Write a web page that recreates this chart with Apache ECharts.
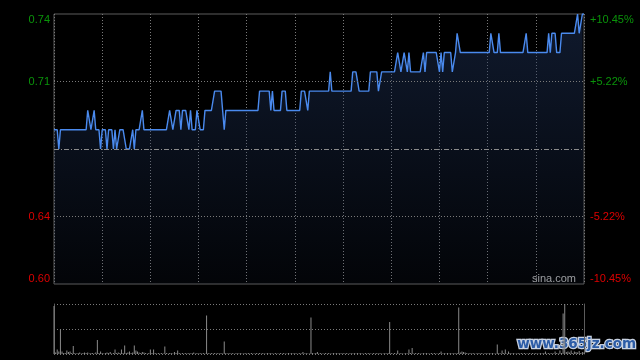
<!DOCTYPE html>
<html>
<head>
<meta charset="utf-8">
<script src="https://cdn.jsdelivr.net/npm/echarts@6/dist/echarts.min.js"></script>
<style>html,body{margin:0;padding:0;background:#000;}#c{width:640px;height:360px;}</style>
</head>
<body>
<div id="c"></div>
<script>
// ---- data ----
const prevClose = 0.67;
const priceTicks = [0.60, 0.635, 0.705, 0.74];
const priceLabels = ['0.60', '0.64', '0.71', '0.74'];
const pctLabels = ['-10.45%', '-5.22%', '+5.22%', '+10.45%'];
const totalMinutes = 330;

// one price per minute (09:30 .. 16:00, lunch break removed)
const prices = [
0.68,0.68,0.68,0.67,0.68,0.68,0.68,0.68,0.68,0.68,
0.68,0.68,0.68,0.68,0.68,0.68,0.68,0.68,0.68,0.68,
0.68,0.69,0.69,0.68,0.68,0.69,0.68,0.68,0.68,0.67,
0.68,0.68,0.68,0.67,0.68,0.68,0.68,0.67,0.68,0.67,
0.67,0.68,0.68,0.68,0.68,0.67,0.67,0.67,0.67,0.68,
0.67,0.68,0.68,0.68,0.68,0.69,0.68,0.68,0.68,0.68,
0.68,0.68,0.68,0.68,0.68,0.68,0.68,0.68,0.68,0.68,
0.68,0.68,0.69,0.69,0.68,0.68,0.69,0.69,0.69,0.68,
0.69,0.69,0.69,0.69,0.68,0.69,0.68,0.68,0.68,0.69,
0.69,0.68,0.68,0.68,0.69,0.69,0.69,0.69,0.69,0.69,
0.70,0.70,0.70,0.70,0.70,0.69,0.68,0.69,0.69,0.69,
0.69,0.69,0.69,0.69,0.69,0.69,0.69,0.69,0.69,0.69,
0.69,0.69,0.69,0.69,0.69,0.69,0.69,0.69,0.70,0.70,
0.70,0.70,0.70,0.70,0.70,0.69,0.70,0.69,0.69,0.69,
0.69,0.69,0.70,0.70,0.70,0.69,0.69,0.69,0.69,0.69,
0.69,0.69,0.69,0.69,0.70,0.70,0.70,0.70,0.69,0.70,
0.70,0.70,0.70,0.70,0.70,0.70,0.70,0.70,0.70,0.70,
0.70,0.70,0.71,0.70,0.70,0.70,0.70,0.70,0.70,0.70,
0.70,0.70,0.70,0.70,0.70,0.70,0.71,0.71,0.71,0.71,
0.70,0.70,0.70,0.70,0.70,0.70,0.70,0.71,0.71,0.71,
0.71,0.71,0.70,0.70,0.71,0.71,0.71,0.71,0.71,0.71,
0.71,0.71,0.71,0.71,0.72,0.72,0.71,0.71,0.72,0.72,
0.71,0.72,0.71,0.71,0.71,0.71,0.71,0.71,0.71,0.71,
0.72,0.71,0.72,0.72,0.72,0.72,0.72,0.72,0.72,0.72,
0.71,0.72,0.71,0.72,0.72,0.72,0.72,0.72,0.71,0.71,
0.72,0.73,0.73,0.72,0.72,0.72,0.72,0.72,0.72,0.72,
0.72,0.72,0.72,0.72,0.72,0.72,0.72,0.72,0.72,0.72,
0.72,0.72,0.73,0.73,0.72,0.72,0.72,0.73,0.72,0.72,
0.72,0.72,0.72,0.72,0.72,0.72,0.72,0.72,0.72,0.72,
0.72,0.72,0.72,0.72,0.73,0.72,0.72,0.72,0.72,0.72,
0.72,0.72,0.72,0.72,0.72,0.72,0.72,0.72,0.73,0.72,
0.73,0.73,0.73,0.72,0.72,0.72,0.73,0.73,0.73,0.73,
0.73,0.73,0.73,0.73,0.73,0.73,0.74,0.73,0.73,0.74,
0.74
];

// relative volume per minute (tallest bar = 100)
const volumes = [
96,3,9,5,49,5,2,2,7,4,
5,2,16,2,1,2,3,1,2,3,
2,3,1,2,2,1,3,28,2,5,
2,1,2,3,2,4,1,2,9,2,
3,2,9,2,17,2,3,5,2,3,
17,7,5,3,2,4,3,2,1,2,
9,2,9,2,1,2,1,2,1,15,
2,1,2,2,1,4,2,7,2,1,
2,1,2,1,2,1,2,3,1,2,
1,2,1,2,1,77,2,1,2,1,
2,1,2,1,2,1,25,2,1,2,
1,2,1,1,2,1,2,1,1,2,
1,2,1,2,1,1,2,1,2,1,
2,1,1,2,1,2,1,1,2,1,
1,2,1,2,1,1,2,1,2,1,
2,1,1,2,1,4,1,2,1,1,
73,2,1,2,4,1,2,1,1,2,
1,2,1,1,2,1,2,1,2,1,
2,1,2,1,1,2,1,2,1,2,
1,2,1,1,2,1,2,1,1,2,
1,2,1,2,1,1,2,1,2,64,
2,1,2,1,7,1,2,1,1,2,
1,9,2,12,1,2,1,2,1,1,
2,1,2,1,1,2,1,2,1,1,
2,5,1,2,1,2,1,2,1,2,
1,2,93,3,5,4,3,2,1,2,
1,2,1,1,2,1,2,1,1,2,
1,2,1,2,1,1,19,2,1,7,
2,9,1,5,2,1,2,1,1,2,
1,2,1,2,1,1,2,1,2,1,
2,1,1,2,1,2,5,1,2,1,
2,1,5,2,1,7,2,81,100,4,
5,3,7,2,5,4,3,6,2,4,
3
];
const volMax = 100;

// ---- chart ----
const GREEN = '#0a940a', RED = '#dd0000';
const FONT = 'Liberation Sans, Arial, sans-serif';
function tickIndex(v) {
  for (let i = 0; i < priceTicks.length; i++) if (Math.abs(v - priceTicks[i]) < 1e-6) return i;
  return -1;
}
function labelFmt(list) {
  return function (v) {
    const i = tickIndex(v);
    if (i < 0) return '';
    return '{' + (priceTicks[i] > prevClose ? 'up' : 'dn') + '|' + list[i] + '}';
  };
}
const rich = {
  up: { color: GREEN, fontSize: 11, fontFamily: FONT },
  dn: { color: RED, fontSize: 11, fontFamily: FONT }
};
const dotted = { color: '#7a7a7a', type: [1, 2], width: 1 };

const chart = echarts.init(document.getElementById('c'), null, { renderer: 'canvas' });
chart.setOption({
  backgroundColor: '#000',
  animation: false,
  grid: [
    { left: 54, right: 56, top: 14, height: 270, show: true, borderColor: '#5c5c5c', borderWidth: 1, backgroundColor: 'transparent' },
    { left: 54, right: 56, top: 304, height: 50 }
  ],
  xAxis: [
    { type: 'value', gridIndex: 0, min: 0, max: totalMinutes, interval: 30,
      axisLine: { show: false }, axisTick: { show: false }, axisLabel: { show: false },
      splitLine: { show: true, lineStyle: dotted } },
    { type: 'value', gridIndex: 1, min: 0, max: totalMinutes, interval: 30,
      axisLine: { show: false }, axisTick: { show: false }, axisLabel: { show: false },
      splitLine: { show: false } }
  ],
  yAxis: [
    { type: 'value', gridIndex: 0, position: 'left', min: priceTicks[0], max: priceTicks[3],
      axisLine: { show: false }, axisTick: { show: false }, splitLine: { show: false },
      axisLabel: { customValues: priceTicks, formatter: labelFmt(priceLabels), rich: rich, margin: 4,
                   verticalAlignMinLabel: 'bottom', verticalAlignMaxLabel: 'top' } },
    { type: 'value', gridIndex: 0, position: 'right', min: priceTicks[0], max: priceTicks[3],
      axisLine: { show: false }, axisTick: { show: false }, splitLine: { show: false },
      axisLabel: { customValues: priceTicks, formatter: labelFmt(pctLabels), rich: rich, margin: 6,
                   verticalAlignMinLabel: 'bottom', verticalAlignMaxLabel: 'top' } },
    { type: 'value', gridIndex: 1, position: 'left', min: 0, max: volMax, interval: 50,
      axisLine: { show: true, lineStyle: { color: '#5c5c5c' } }, axisTick: { show: false }, axisLabel: { show: false },
      splitLine: { show: true, lineStyle: dotted } },
    { type: 'value', gridIndex: 1, position: 'right', min: 0, max: volMax, interval: 50,
      axisLine: { show: true, lineStyle: { color: '#5c5c5c' } }, axisTick: { show: false }, axisLabel: { show: false },
      splitLine: { show: false } }
  ],
  series: [
    {
      type: 'line', xAxisIndex: 0, yAxisIndex: 0,
      data: prices.map((p, i) => [i, p]),
      symbol: 'none', smooth: false,
      lineStyle: { color: '#4a8aee', width: 1.4 },
      areaStyle: {
        origin: 'start',
        color: new echarts.graphic.LinearGradient(0, 0, 0, 1, [
          { offset: 0, color: 'rgba(32,52,92,0.7)' },
          { offset: 1, color: 'rgba(32,52,92,0.12)' }
        ])
      },
      markLine: {
        silent: true, symbol: 'none', label: { show: false }, animation: false, precision: 4,
        data: [
          { yAxis: priceTicks[1], lineStyle: dotted },
          { yAxis: priceTicks[2], lineStyle: dotted },
          { yAxis: prevClose, lineStyle: { color: '#8c8c8c', type: [5, 2, 1, 2], width: 1 } }
        ]
      }
    },
    {
      type: 'bar', xAxisIndex: 1, yAxisIndex: 2,
      data: volumes.map((v, i) => [i, v]),
      barWidth: 1,
      itemStyle: { color: '#8a8a8a' }
    }
  ],
  graphic: [
    { type: 'text', left: 532, top: 273, silent: true,
      style: { text: 'sina.com', fill: '#a8a8a8', font: '11px ' + FONT } },
    { type: 'text', left: 516, top: 336, silent: true,
      style: { text: 'www.365jz.com', fill: '#2c5ca6', stroke: '#c8d2e2', lineWidth: 2.5,
               font: 'bold 13.5px "DejaVu Sans", sans-serif' } }
  ]
});
</script>
</body>
</html>
